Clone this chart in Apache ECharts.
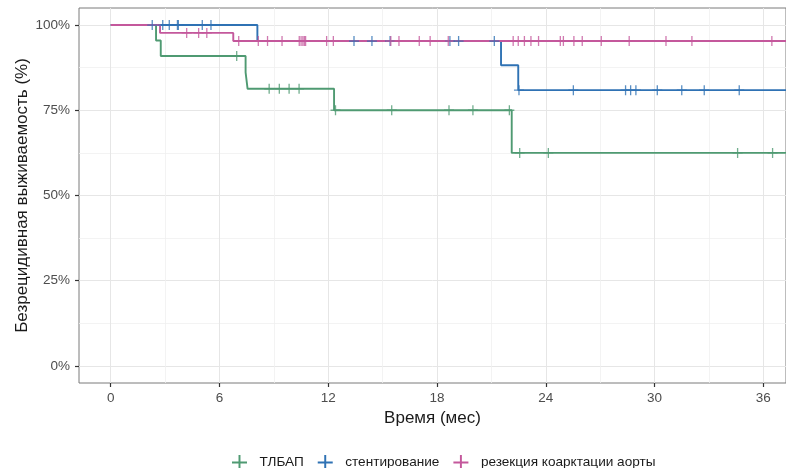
<!DOCTYPE html>
<html>
<head>
<meta charset="utf-8">
<script src="https://cdn.jsdelivr.net/npm/echarts@6/dist/echarts.min.js"></script>
<style>
html,body{margin:0;padding:0;background:#fff;}
#chart{width:786px;height:468px;}
</style>
</head>
<body>
<div id="chart"></div>
<script>
// ---- data ----
const seriesNames = ['ТЛБАП', 'стентирование', 'резекция коарктации аорты'];

// Kaplan-Meier step points: event times (months) and survival (%) after each step
const tlbapTimes = [0, 2.5, 2.76, 7.44, 7.55, 12.32, 22.12];
const tlbapSurv  = [100, 95.45, 90.9, 86.1, 81.3, 75.0, 62.5];
const tlbapCensor = [6.95, 8.74, 9.30, 9.84, 10.39, 12.4, 15.5, 18.66, 19.98, 21.99, 22.56, 24.14, 34.58, 36.51];

const stentTimes = [0, 8.09, 21.53, 22.48];
const stentSurv  = [100, 95.3, 88.2, 80.9];
const stentCensor = [2.29, 2.87, 3.23, 3.68, 3.73, 5.05, 5.53, 13.42, 14.41, 15.41, 18.71, 19.19, 21.16, 22.52, 25.52, 28.4, 28.68, 28.97, 30.15, 31.5, 32.74, 34.67];

const resTimes = [0, 2.72, 6.76];
const resSurv  = [100, 97.7, 95.3];
const resCensor = [4.19, 4.85, 5.3, 7.06, 8.14, 8.65, 9.45, 10.4, 10.5, 10.6, 10.68, 10.75, 11.91, 12.28, 15.45, 15.9, 17.02, 17.62, 18.62, 22.2, 22.48, 22.82, 23.18, 23.6, 24.8, 24.97, 25.55, 26.01, 27.06, 28.6, 30.63, 32.06, 36.47];

const followUpEnd = 40;

const xTicks = [0, 6, 12, 18, 24, 30, 36];
const xMinorTicks = [3, 9, 15, 21, 27, 33];
const yTicks = [0, 25, 50, 75, 100];
const yMinorTicks = [12.5, 37.5, 62.5, 87.5];

// ---- helpers ----
const colors = ['#4f9a72', '#2f72b4', '#c4589c'];
const plusPath = 'path://M4.35,0H5.65V4.35H10V5.65H5.65V10H4.35V5.65H0V4.35H4.35Z';

function stepData(times, surv) {
  const d = times.map((t, i) => [t, surv[i]]);
  d.push([followUpEnd, surv[surv.length - 1]]);
  return d;
}
function survAt(times, surv, t) {
  let s = surv[0];
  for (let i = 0; i < times.length; i++) { if (times[i] <= t) s = surv[i]; }
  return s;
}
function censorData(times, surv, cens) {
  return cens.map(t => [t, survAt(times, surv, t)]);
}

const groups = [
  [tlbapTimes, tlbapSurv, tlbapCensor],
  [stentTimes, stentSurv, stentCensor],
  [resTimes, resSurv, resCensor]
];

const series = [];
groups.forEach((g, i) => {
  series.push({
    name: seriesNames[i], type: 'line', step: 'end',
    xAxisIndex: 0, yAxisIndex: 0,
    data: stepData(g[0], g[1]), showSymbol: false, symbol: 'none',
    lineStyle: { color: colors[i], width: 1.9 }, itemStyle: { color: colors[i] },
    clip: true, z: 2 + i, animation: false, silent: true
  });
});
groups.forEach((g, i) => {
  series.push({
    name: seriesNames[i], type: 'scatter',
    xAxisIndex: 0, yAxisIndex: 0,
    data: censorData(g[0], g[1], g[2]),
    symbol: plusPath, symbolSize: 10,
    itemStyle: { color: colors[i] },
    z: 6 + i, animation: false, silent: true
  });
});

const labelStyle = { color: '#4d4d4d', fontSize: 13.5, fontFamily: 'Liberation Sans' };
const chart = echarts.init(document.getElementById('chart'), null, { renderer: 'canvas' });
chart.setOption({
  animation: false,
  color: colors,
  grid: { left: 79, right: 0, top: 8, bottom: 85, show: true, borderColor: '#7a7a7a', borderWidth: 1, backgroundColor: 'transparent' },
  legend: {
    left: 227, top: 450,
    data: seriesNames.map(n => ({ name: n, icon: plusPath })),
    itemWidth: 16, itemHeight: 15, itemGap: 14,
    textStyle: { color: '#1a1a1a', fontSize: 13.6, fontFamily: 'Liberation Sans', padding: [0, 0, 0, 7] },
    selectedMode: false
  },
  xAxis: [
    {
      type: 'value', min: -1.75, max: 37.25,
      name: 'Время (мес)', nameLocation: 'middle', nameGap: 23,
      nameTextStyle: { color: '#1a1a1a', fontSize: 17, fontFamily: 'Liberation Sans' },
      axisLine: { show: false, onZero: false },
      axisTick: { show: true, customValues: xTicks, length: 4, lineStyle: { color: '#333', width: 1.2 } },
      axisLabel: Object.assign({ customValues: xTicks, margin: 8 }, labelStyle),
      splitLine: { show: true, lineStyle: { color: '#e6e6e6', width: 1 } }
    },
    {
      type: 'value', min: -1.75, max: 37.25, position: 'bottom',
      axisLine: { show: false, onZero: false },
      axisTick: { show: false, customValues: xMinorTicks },
      axisLabel: { show: false, customValues: xMinorTicks },
      splitLine: { show: true, lineStyle: { color: '#f0f0f0', width: 0.8 } }
    }
  ],
  yAxis: [
    {
      type: 'value', min: -5, max: 105,
      name: 'Безрецидивная выживаемость (%)', nameLocation: 'middle', nameGap: 48,
      nameMoveOverlap: false,
      nameTextStyle: { color: '#1a1a1a', fontSize: 17, fontFamily: 'Liberation Sans' },
      axisLine: { show: false, onZero: false },
      axisTick: { show: true, customValues: yTicks, length: 4, lineStyle: { color: '#333', width: 1.2 } },
      axisLabel: Object.assign({ customValues: yTicks, margin: 9, formatter: v => v + '%' }, labelStyle),
      splitLine: { show: true, lineStyle: { color: '#e6e6e6', width: 1 } }
    },
    {
      type: 'value', min: -5, max: 105, position: 'left',
      axisLine: { show: false, onZero: false },
      axisTick: { show: false, customValues: yMinorTicks },
      axisLabel: { show: false, customValues: yMinorTicks },
      splitLine: { show: true, lineStyle: { color: '#f0f0f0', width: 0.8 } }
    }
  ],
  series: series
});
</script>
</body>
</html>
